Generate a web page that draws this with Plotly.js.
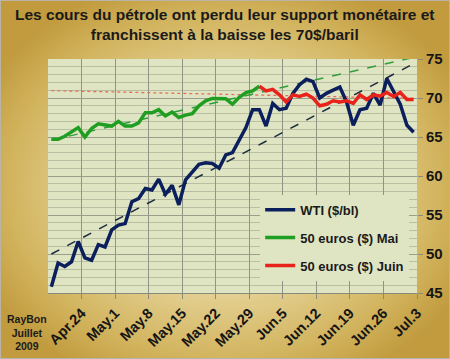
<!DOCTYPE html>
<html>
<head>
<meta charset="utf-8">
<script src="https://cdn.plot.ly/plotly-3.0.1.min.js"></script>
<style>
html,body{margin:0;padding:0;}
#wrap{position:relative;width:450px;height:359px;overflow:hidden;
 background:radial-gradient(ellipse 60% 60% at 50% 52%, #f1e8c2 0%, #e6d49a 45%, #d2b45e 80%, #c19b3e 100%);}
#chart{position:absolute;left:0;top:0;width:450px;height:359px;}
#frame{position:absolute;left:0;top:0;width:448px;height:357px;border:1px solid #b9b4a6;pointer-events:none;}
</style>
</head>
<body>
<div id="wrap"><div id="chart"></div><div id="frame"></div></div>
<script>
// Trading days (categories)
const days = ["Apr.20","Apr.21","Apr.22","Apr.23","Apr.24","Apr.27","Apr.28","Apr.29","Apr.30",
 "May.1","May.4","May.5","May.6","May.7","May.8","May.11","May.12","May.13","May.14","May.15",
 "May.18","May.19","May.20","May.21","May.22","May.25","May.26","May.27","May.28","May.29",
 "Jun.1","Jun.2","Jun.3","Jun.4","Jun.5","Jun.8","Jun.9","Jun.10","Jun.11","Jun.12",
 "Jun.15","Jun.16","Jun.17","Jun.18","Jun.19","Jun.22","Jun.23","Jun.24","Jun.25","Jun.26",
 "Jun.29","Jun.30","Jul.1","Jul.2","Jul.3"];
const tickLabels = ["Apr.24","May.1","May.8","May.15","May.22","May.29","Jun.5","Jun.12","Jun.19","Jun.26","Jul.3"];

const wti = [45.8,48.85,48.4,49.0,51.6,49.5,49.2,51.2,50.9,53.1,
 53.7,53.9,56.7,57.1,58.4,58.2,59.6,57.65,58.8,56.3,
 59.5,60.5,61.5,61.7,61.6,61.0,62.7,63.0,64.6,66.2,
 68.5,68.5,66.4,69.3,68.5,68.7,70.6,71.7,72.4,72.1,
 70.0,70.6,71.0,71.4,69.5,66.5,68.5,68.7,70.6,69.1,
 72.5,70.8,69.2,66.5,65.6];
const eurMai = [64.7,64.7,65.1,65.7,66.2,65.0,66.1,66.7,66.5,66.4,
 67.0,66.4,66.4,66.8,68.1,68.1,68.5,67.7,68.2,67.5,
 67.8,68.0,69.0,69.65,69.95,69.95,69.9,69.2,70.1,70.7,
 70.9,71.5];
const eurJuin = [71.5,70.9,71.1,70.4,69.5,70.4,70.2,70.5,70.0,69.0,
 69.2,69.65,69.5,69.65,69.3,70.4,69.8,70.4,70.25,70.7,
 70.2,70.7,69.8,69.8];
// trend lines: value at first and last day
const trendWti = [50.0, 74.4];
const trendMai = [64.6, 75.2];
const trendJuin = [70.95, 69.95];

const titleText = 'Les cours du pétrole ont perdu leur support monétaire et<br>franchissent à la baisse les 70$/baril';
const signature = 'RayBon<br>Juillet<br>2009';

const idx = days.map((d,i)=>i);
const n = days.length;
const maiX = idx.slice(0, eurMai.length);
const juinX = idx.slice(n - eurJuin.length);
const endsX = [0, n-1];
const tickvals = tickLabels.map(t => days.indexOf(t) + 0.5);

const traces = [
 {x:endsX, y:trendJuin, mode:'lines', line:{color:'#e2705e', width:1.3, dash:'dot'}, showlegend:false, hoverinfo:'skip'},
 {x:endsX, y:trendMai, mode:'lines', line:{color:'#2f9e3a', width:1.5, dash:'dash'}, showlegend:false, hoverinfo:'skip'},
 {x:endsX, y:trendWti, mode:'lines', line:{color:'#1c2a3e', width:1.5, dash:'dash'}, showlegend:false, hoverinfo:'skip'},
 {x:idx, y:wti, name:'WTI ($/bl)', mode:'lines', line:{color:'#0b1f5c', width:3.5}, legendgroup:'a'},
 {x:maiX, y:eurMai, name:'50 euros ($) Mai', mode:'lines', line:{color:'#1f9e22', width:3.5}, legendgroup:'b'},
 {x:juinX, y:eurJuin, name:'50 euros ($) Juin', mode:'lines', line:{color:'#e8231c', width:3.5}, legendgroup:'c'}
];

const layout = {
 width:450, height:359,
 paper_bgcolor:'rgba(0,0,0,0)',
 plot_bgcolor:'#dfe5c3',
 margin:{l:48, r:33, t:59, b:66},
 font:{family:'Liberation Sans, Arial, sans-serif', color:'#1a1a1a'},
 xaxis:{range:[-0.5, n-0.5], tickmode:'array', tickvals:tickvals, ticktext:tickLabels,
   tickangle:-45, tickfont:{size:14.5, weight:'bold', color:'#151515'},
   ticks:'outside', ticklen:5, tickcolor:'#8a8a7a',
   showgrid:true, gridcolor:'#8f9484', gridwidth:1, zeroline:false,
   showline:true, linecolor:'#8a8a7a', linewidth:1, fixedrange:true},
 yaxis:{side:'right', range:[45,75], dtick:5, tickfont:{size:15, weight:'bold', color:'#151515'},
   ticks:'outside', ticklen:5, tickcolor:'#8a8a7a',
   showgrid:true, gridcolor:'#9a9f8c', gridwidth:1, zeroline:false,
   minor:{dtick:1, showgrid:true, gridcolor:'#b9bfa3', gridwidth:1},
   showline:false, fixedrange:true},
 legend:{x:0.575, xanchor:'left', y:0.42, yanchor:'top', bgcolor:'#dfe5c3', borderwidth:0,
   font:{size:13, weight:'bold', color:'#1a1a1a'}, traceorder:'grouped', tracegroupgap:8,
   itemwidth:30},
 annotations:[
  {xref:'paper', yref:'paper', x:0.477, y:1 + (59-4)/234, xanchor:'center', yanchor:'top',
   text:titleText, showarrow:false, align:'center',
   font:{size:15.5, weight:'bold', color:'#1a1a1a'}},
  {xref:'paper', yref:'paper', x:-0.057, y:-0.075, xanchor:'center', yanchor:'top',
   text:signature, showarrow:false, align:'center',
   font:{size:10.5, weight:'bold', color:'#1a1a1a'}}],
 showlegend:true
};

Plotly.newPlot('chart', traces, layout, {displayModeBar:false, staticPlot:true});
</script>
</body>
</html>
